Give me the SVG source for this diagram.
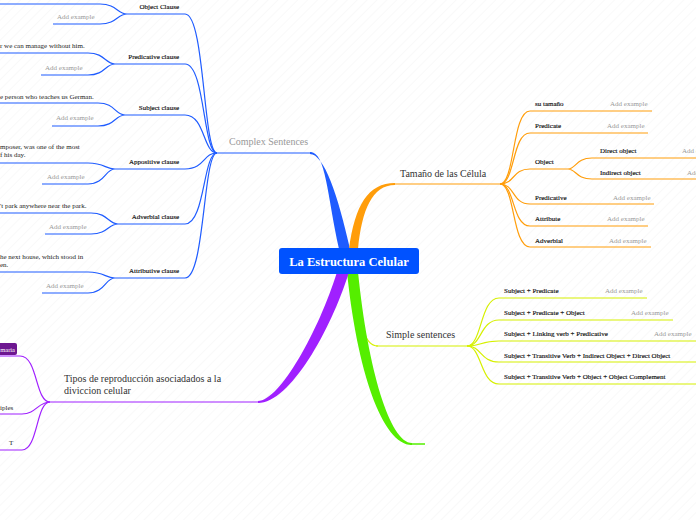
<svg xmlns="http://www.w3.org/2000/svg" width="696" height="520" viewBox="0 0 696 520">
<defs>
<pattern id="bg" width="7" height="7" patternUnits="userSpaceOnUse" patternTransform="rotate(45)">
<line x1="0" y1="0" x2="0" y2="7" stroke="#f3f3f3" stroke-width="1"/>
</pattern>
<style>
.lbl{font-family:"Liberation Serif",serif;font-size:7px;fill:#111;stroke:#111;stroke-width:0.15}
.ex{font-family:"Liberation Serif",serif;font-size:7px;fill:#999}
.txt{font-family:"Liberation Serif",serif;font-size:7px;fill:#222}
.big{font-family:"Liberation Serif",serif;font-size:10px;fill:#333}
.b{fill:none;stroke:#1f5cff;stroke-width:1.2}
.o{fill:none;stroke:#ff9d0a;stroke-width:1.2}
.y{fill:none;stroke:#d6f000;stroke-width:1.2}
.p{fill:none;stroke:#a020ff;stroke-width:1.2}
.g{fill:none;stroke:#55ee00;stroke-width:1.5}
</style>
</defs>
<rect width="696" height="520" fill="#fff"/>
<rect width="696" height="520" fill="url(#bg)"/>

<g id="connectors">
<path d="M339,249 C327,195 326,152 310,152 L310,154 C324,154 338,195 350,249 Z" fill="#1f5cff"/>
<path d="M349,249 C355,205 368,183 395,183 L395,185 C372,185 362,210 358,249 Z" fill="#ff9d0a"/>
<path d="M356,273 C360,320 362,346 378,346" class="y"/>
<path d="M347,272 C357,370 382,445 412,445 L412,443 C390,443 368,370 358,272 Z" fill="#55ee00"/>
<path d="M337,272 C319,330 280,401 258,401 L258,403 C290,403 331,330 349,272 Z" fill="#a020ff"/>
<path d="M217,153 L312,153" class="b"/>
<path d="M393,184 L500,184" class="o"/>
<path d="M376,346 L467,346" class="y"/>
<path d="M410,444 L425,444" class="g"/>
<path d="M50,402 L260,402" class="p"/>

<path d="M217,153 C203,153 205,14 185,14 L127,14" class="b"/>
<path d="M127,14 C117,14 117,4 100,4 L0,4 M127,14 C117,14 117,24 100,24 L53,24" class="b"/>
<path d="M217,153 C203,153 205,64 185,64 L115,64" class="b"/>
<path d="M115,64 C105,64 105,53 88,53 L0,53 M115,64 C105,64 105,75 88,75 L41,75" class="b"/>
<path d="M217,153 C203,153 205,115 185,115 L125,115" class="b"/>
<path d="M125,115 C115,115 115,103 98,103 L0,103 M125,115 C115,115 115,126 98,126 L52,126" class="b"/>
<path d="M217,153 C203,153 205,169 185,169 L115,169" class="b"/>
<path d="M115,169 C105,169 105,163 88,163 L0,163 M115,169 C105,169 105,184 88,184 L42,184" class="b"/>
<path d="M217,153 C203,153 205,224 185,224 L118,224" class="b"/>
<path d="M118,224 C108,224 108,213 91,213 L0,213 M118,224 C108,224 108,234 91,234 L45,234" class="b"/>
<path d="M217,153 C203,153 205,278 185,278 L115,278" class="b"/>
<path d="M115,278 C105,278 105,272 88,272 L0,272 M115,278 C105,278 105,293 88,293 L42,293" class="b"/>

<path d="M500,184 C515,184 512,111 530,111 L652,111" class="o"/>
<path d="M500,184 C515,184 512,133 530,133 L648,133" class="o"/>
<path d="M500,184 C515,184 512,169 530,169 L568,169" class="o"/>
<path d="M568,169 C576,169 576,158 592,158 L696,158 M568,169 C576,169 576,179 592,179 L696,179" class="o"/>
<path d="M500,184 C515,184 512,204 530,204 L654,204" class="o"/>
<path d="M500,184 C515,184 512,226 530,226 L648,226" class="o"/>
<path d="M500,184 C515,184 512,247 530,247 L651,247" class="o"/>

<path d="M467,346 C482,346 480,298 499,298 L647,298" class="y"/>
<path d="M467,346 C482,346 480,320 499,320 L673,320" class="y"/>
<path d="M467,346 C482,346 480,341 499,341 L696,341" class="y"/>
<path d="M467,346 C482,346 480,362 499,362 L696,362" class="y"/>
<path d="M467,346 C482,346 480,384 499,384 L696,384" class="y"/>

<path d="M50,402 C35,402 38,356 20,356 L0,356" class="p"/>
<path d="M50,402 C38,402 36,414 22,414 L0,414" class="p"/>
<path d="M50,402 C36,402 38,450 22,450 L0,450" class="p"/>
</g>

<g id="center">
<rect x="279" y="248" width="140" height="26" rx="3" fill="#0052ff"/>
<text x="349" y="266" text-anchor="middle" font-family="Liberation Serif,serif" font-size="12.5" font-weight="bold" fill="#fff">La Estructura Celular</text>
</g>

<g id="complex">
<text x="229" y="145" class="big" style="fill:#999">Complex Sentences</text>
</g>
<g id="object-clause">
<text x="179" y="9" class="lbl" text-anchor="end">Object Clause</text>
<text x="57" y="19" class="ex">Add example</text>
</g>
<g id="predicative-clause">
<text x="179" y="59" class="lbl" text-anchor="end">Predicative clause</text>
<text x="0" y="48" class="txt">r we can manage without him.</text>
<text x="45" y="70" class="ex">Add example</text>
</g>
<g id="subject-clause">
<text x="179" y="110" class="lbl" text-anchor="end">Subject clause</text>
<text x="0" y="99" class="txt">e person who teaches us German.</text>
<text x="56" y="120" class="ex">Add example</text>
</g>
<g id="appositive-clause">
<text x="179" y="164" class="lbl" text-anchor="end">Appositive clause</text>
<text x="0" y="149" class="txt">mposer, was one of the most</text>
<text x="0" y="157" class="txt">f his day.</text>
<text x="47" y="179" class="ex">Add example</text>
</g>
<g id="adverbial-clause">
<text x="179" y="219" class="lbl" text-anchor="end">Adverbial clause</text>
<text x="0" y="208" class="txt">'t park anywhere near the park.</text>
<text x="49" y="229" class="ex">Add example</text>
</g>
<g id="attributive-clause">
<text x="179" y="273" class="lbl" text-anchor="end">Attributive clause</text>
<text x="0" y="259" class="txt">he next house, which stood in</text>
<text x="0" y="267" class="txt">en.</text>
<text x="46" y="288" class="ex">Add example</text>
</g>

<g id="tamano">
<text x="400" y="177" class="big">Tamaño de las Célula</text>
</g>
<g id="su-tamano"><text x="535" y="106" class="lbl">su tamaño</text><text x="610" y="106" class="ex">Add example</text></g>
<g id="predicate"><text x="535" y="128" class="lbl">Predicate</text><text x="607" y="128" class="ex">Add example</text></g>
<g id="object"><text x="535" y="164" class="lbl">Object</text></g>
<g id="direct-object"><text x="600" y="153" class="lbl">Direct object</text><text x="682" y="153" class="ex">Add example</text></g>
<g id="indirect-object"><text x="600" y="175" class="lbl">Indirect object</text><text x="687" y="175" class="ex">Add example</text></g>
<g id="predicative"><text x="535" y="200" class="lbl">Predicative</text><text x="613" y="200" class="ex">Add example</text></g>
<g id="attribute"><text x="535" y="221" class="lbl">Attribute</text><text x="607" y="221" class="ex">Add example</text></g>
<g id="adverbial"><text x="535" y="243" class="lbl">Adverbial</text><text x="609" y="243" class="ex">Add example</text></g>

<g id="simple">
<text x="386" y="338" class="big">Simple sentences</text>
</g>
<g id="s1"><text x="504" y="293" class="lbl">Subject + Predicate</text><text x="605" y="293" class="ex">Add example</text></g>
<g id="s2"><text x="504" y="315" class="lbl">Subject + Predicate + Object</text><text x="631" y="315" class="ex">Add example</text></g>
<g id="s3"><text x="504" y="336" class="lbl">Subject + Linking verb + Predicative</text><text x="654" y="336" class="ex">Add example</text></g>
<g id="s4"><text x="504" y="358" class="lbl">Subject + Transitive Verb + Indirect Object + Direct Object</text></g>
<g id="s5"><text x="504" y="379" class="lbl">Subject + Transitive Verb + Object + Object Complement</text></g>

<g id="tipos">
<text x="64" y="382" class="big">Tipos de reproducción asociadados a la</text>
<text x="64" y="394" class="big">diviccion celular</text>
</g>
<g id="maria">
<rect x="-6" y="343" width="23" height="12" rx="2" fill="#6d1790"/>
<text x="15" y="351.5" text-anchor="end" font-family="Liberation Serif,serif" font-size="6.5" fill="#fff">maria</text>
</g>
<g id="iples"><text x="0" y="410" class="txt">iples</text></g>
<g id="t"><text x="9" y="445" class="txt">T</text></g>
</svg>
